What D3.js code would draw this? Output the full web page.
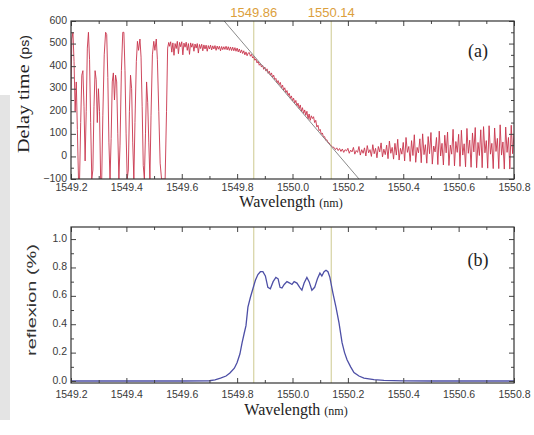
<!DOCTYPE html>
<html>
<head>
<meta charset="utf-8">
<script src="https://cdn.jsdelivr.net/npm/d3@7"></script>
<style>
  body { margin: 0; background: white; }
  .tick text { font-family: "Liberation Sans", Arial, sans-serif; font-size: 10.5px; fill: #3a3a3a; }
  .tick line { stroke: #444; stroke-width: 1; }
</style>
</head>
<body>
<svg id="chart" width="534" height="435"></svg>
<script>
// wavelength ticks shared by both panels
var wlMajor = [1549.2, 1549.4, 1549.6, 1549.8, 1550.0, 1550.2, 1550.4, 1550.6, 1550.8];
var wlMinor = [1549.3, 1549.5, 1549.7, 1549.9, 1550.1, 1550.3, 1550.5, 1550.7];
var delayMajor = [-100, 0, 100, 200, 300, 400, 500, 600];
var delayMinor = [-50, 50, 150, 250, 350, 450, 550];
var reflMajor = [0.0, 0.2, 0.4, 0.6, 0.8, 1.0];
var reflMinor = [0.1, 0.3, 0.5, 0.7, 0.9];

// band edges marked by the vertical lines
var markers = [1549.86, 1550.14];

// linear fit of the delay slope (ps)
var fitLine = [[1549.74, 619], [1550.25, -114]];

// measured group delay (wavelength nm, delay ps)
var delayTrace = [
  [1549.200,300],[1549.203,520],[1549.207,550],[1549.211,420],[1549.215,200],[1549.219,330],[1549.223,120],
  [1549.227,-100],[1549.231,-100],[1549.235,150],[1549.239,360],[1549.243,380],[1549.247,220],[1549.251,-20],
  [1549.255,200],[1549.259,480],[1549.263,550],[1549.267,430],[1549.271,150],[1549.275,-100],[1549.279,-60],
  [1549.283,220],[1549.287,380],[1549.291,340],[1549.295,150],[1549.299,300],[1549.303,200],[1549.307,-100],
  [1549.311,-100],[1549.315,180],[1549.320,450],[1549.325,550],[1549.329,540],[1549.333,350],[1549.337,60],
  [1549.341,-100],[1549.345,80],[1549.349,330],[1549.353,370],[1549.357,250],[1549.361,360],[1549.365,330],
  [1549.369,100],[1549.373,-100],[1549.377,50],[1549.382,380],[1549.387,550],[1549.391,550],[1549.395,380],
  [1549.399,100],[1549.403,-100],[1549.407,-60],[1549.411,200],[1549.415,360],[1549.419,300],[1549.423,60],
  [1549.427,-100],[1549.431,150],[1549.436,420],[1549.440,510],[1549.444,470],[1549.449,520],[1549.453,440],
  [1549.457,220],[1549.461,-40],[1549.465,-100],[1549.469,100],[1549.473,330],[1549.477,240],[1549.481,60],
  [1549.485,-100],[1549.489,180],[1549.494,450],[1549.499,510],[1549.503,470],[1549.508,520],[1549.512,430],
  [1549.517,200],[1549.522,-30],[1549.527,-100],[1549.540,-100],[1549.545,200],[1549.549,480],[1549.553,505],
  [1549.556,488],[1549.560,508],[1549.564,462],[1549.568,503],[1549.572,448],[1549.576,500],[1549.580,478],
  [1549.584,510],[1549.588,455],[1549.592,505],[1549.596,486],[1549.600,508],[1549.604,450],[1549.608,502],
  [1549.612,484],[1549.616,506],[1549.620,470],[1549.624,500],[1549.628,452],[1549.632,503],[1549.636,484],
  [1549.640,500],[1549.644,466],[1549.648,498],[1549.652,480],[1549.656,500],[1549.660,458],[1549.664,496],
  [1549.668,478],[1549.672,497],[1549.676,468],[1549.680,494],[1549.684,476],[1549.688,493],[1549.692,466],
  [1549.696,491],[1549.700,476],[1549.704,493],[1549.708,472],[1549.712,490],[1549.716,476],[1549.720,491],
  [1549.724,470],[1549.728,489],[1549.732,475],[1549.736,488],[1549.740,468],[1549.744,487],[1549.748,473],
  [1549.752,486],[1549.756,474],[1549.760,488],[1549.764,472],[1549.768,486],[1549.772,470],[1549.776,485],
  [1549.780,469],[1549.784,484],[1549.788,468],[1549.792,482],[1549.796,466],[1549.800,480],[1549.804,463],
  [1549.808,476],[1549.812,459],[1549.816,472],[1549.820,456],[1549.824,468],[1549.828,450],[1549.832,463],
  [1549.836,446],[1549.840,458],[1549.844,460],[1549.848,444],[1549.852,452],[1549.856,436],[1549.860,442],
  [1549.864,426],[1549.868,432],[1549.872,414],[1549.876,422],[1549.880,404],[1549.884,412],[1549.888,396],
  [1549.892,404],[1549.896,386],[1549.900,396],[1549.904,378],[1549.908,388],[1549.912,368],[1549.916,378],
  [1549.920,360],[1549.924,370],[1549.928,350],[1549.932,360],[1549.936,340],[1549.940,346],[1549.944,326],
  [1549.948,336],[1549.952,318],[1549.956,328],[1549.960,304],[1549.964,316],[1549.968,294],[1549.972,304],
  [1549.976,282],[1549.980,292],[1549.984,270],[1549.988,280],[1549.992,258],[1549.996,268],[1550.000,246],
  [1550.004,258],[1550.008,236],[1550.012,248],[1550.016,224],[1550.020,236],[1550.024,212],[1550.028,228],
  [1550.032,200],[1550.036,216],[1550.040,190],[1550.044,206],[1550.048,182],[1550.052,200],[1550.056,166],
  [1550.060,188],[1550.064,160],[1550.068,180],[1550.072,168],[1550.076,176],[1550.080,150],[1550.084,160],
  [1550.088,130],[1550.092,138],[1550.096,114],[1550.100,120],[1550.104,98],[1550.108,104],[1550.112,84],
  [1550.116,88],[1550.120,72],[1550.124,74],[1550.128,62],[1550.132,60],[1550.136,52],[1550.140,46],
  [1550.144,42],[1550.150,40],[1550.155,30],[1550.160,38],[1550.165,26],[1550.170,35],[1550.175,22],
  [1550.180,33],[1550.185,18],[1550.190,30],[1550.195,24],[1550.200,36],[1550.205,14],[1550.210,28],
  [1550.215,20],[1550.220,40],[1550.225,10],[1550.230,26],[1550.235,18],[1550.240,44],[1550.245,6],
  [1550.250,30],[1550.255,14],[1550.260,38],[1550.265,2],[1550.270,48],[1550.275,16],[1550.280,30],
  [1550.285,0],[1550.290,52],[1550.295,12],[1550.300,36],[1550.305,-6],[1550.310,44],[1550.315,20],
  [1550.320,60],[1550.325,-2],[1550.330,32],[1550.335,8],[1550.340,50],[1550.345,-10],[1550.350,68],
  [1550.355,14],[1550.360,40],[1550.365,-12],[1550.370,58],[1550.375,6],[1550.380,76],[1550.385,-16],
  [1550.390,36],[1550.395,10],[1550.400,62],[1550.405,-20],[1550.410,84],[1550.415,18],[1550.420,44],
  [1550.425,-22],[1550.430,70],[1550.435,4],[1550.440,96],[1550.445,-26],[1550.450,40],[1550.455,16],
  [1550.460,78],[1550.465,-28],[1550.470,100],[1550.475,8],[1550.480,52],[1550.485,-30],[1550.490,88],
  [1550.495,12],[1550.500,106],[1550.505,-34],[1550.510,46],[1550.515,20],[1550.520,84],[1550.525,-36],
  [1550.530,112],[1550.535,2],[1550.540,58],[1550.545,-38],[1550.550,94],[1550.555,16],[1550.560,108],
  [1550.565,-40],[1550.570,50],[1550.575,10],[1550.580,120],[1550.585,-42],[1550.590,66],[1550.595,18],
  [1550.600,98],[1550.605,-44],[1550.610,116],[1550.615,6],[1550.620,56],[1550.625,-46],[1550.630,124],
  [1550.635,14],[1550.640,72],[1550.645,-48],[1550.650,104],[1550.655,20],[1550.660,128],[1550.665,-50],
  [1550.670,62],[1550.675,4],[1550.680,118],[1550.685,-50],[1550.690,132],[1550.695,16],[1550.700,70],
  [1550.705,-52],[1550.710,136],[1550.715,10],[1550.720,58],[1550.725,-54],[1550.730,126],[1550.735,22],
  [1550.740,80],[1550.745,-54],[1550.750,140],[1550.755,6],[1550.760,64],[1550.765,-56],[1550.770,130],
  [1550.775,18],[1550.780,84],[1550.785,-56],[1550.790,138],[1550.795,12],[1550.800,100]
];

// measured reflection (wavelength nm, reflexion)
var reflTrace = [
  [1549.20,0],[1549.30,0],[1549.40,0],[1549.50,0],[1549.60,0],[1549.70,0.002],[1549.72,0.008],[1549.74,0.02],
  [1549.76,0.035],[1549.774,0.056],[1549.79,0.09],[1549.80,0.13],[1549.81,0.19],[1549.818,0.27],[1549.826,0.34],
  [1549.832,0.39],[1549.839,0.52],[1549.848,0.59],[1549.857,0.65],[1549.866,0.71],[1549.875,0.75],[1549.884,0.77],
  [1549.893,0.77],[1549.902,0.74],[1549.911,0.66],[1549.920,0.65],[1549.930,0.70],[1549.940,0.73],[1549.948,0.72],
  [1549.955,0.66],[1549.962,0.655],[1549.970,0.68],[1549.980,0.70],[1549.990,0.69],[1549.998,0.68],[1550.006,0.70],
  [1550.016,0.69],[1550.026,0.66],[1550.034,0.64],[1550.042,0.69],[1550.052,0.73],[1550.060,0.70],[1550.070,0.64],
  [1550.080,0.66],[1550.090,0.72],[1550.099,0.76],[1550.106,0.74],[1550.114,0.77],[1550.121,0.78],[1550.128,0.77],
  [1550.135,0.73],[1550.146,0.62],[1550.157,0.52],[1550.168,0.41],[1550.179,0.27],[1550.188,0.2],[1550.197,0.15],
  [1550.21,0.1],[1550.222,0.06],[1550.24,0.035],[1550.258,0.02],[1550.294,0.01],[1550.33,0.004],[1550.40,0.001],
  [1550.50,0],[1550.60,0],[1550.70,0],[1550.80,0]
];

var svg = d3.select("#chart");
var left = 71, right = 514;
var topA = 21, botA = 179;
var topB = 227, botB = 383;

// faint grey strip on the left edge of the scan
svg.append("rect").attr("x", 0).attr("y", 95).attr("width", 10).attr("height", 325).attr("fill", "#e4e4e4");

var x = d3.scaleLinear().domain([1549.2, 1550.8]).range([left, right]);
var yA = d3.scaleLinear().domain([-100, 600]).range([botA, topA]);
var yB = d3.scaleLinear().domain([-0.014, 1.085]).range([botB, topB]);

var defs = svg.append("defs");
defs.append("clipPath").attr("id", "clipA").append("rect")
  .attr("x", left).attr("y", topA).attr("width", right - left).attr("height", botA - topA);
defs.append("clipPath").attr("id", "clipB").append("rect")
  .attr("x", left).attr("y", topB).attr("width", right - left).attr("height", botB - topB);

function drawAxes(y, top, bot, yMajor, yMinor, yFmt, xPad) {
  var g = svg.append("g");
  // bottom (labelled) and top mirror
  g.append("g").attr("transform", "translate(0," + bot + ")")
    .call(d3.axisBottom(x).tickValues(wlMajor).tickSize(-5).tickPadding(xPad).tickFormat(d3.format(".1f")));
  g.append("g").attr("transform", "translate(0," + bot + ")")
    .call(d3.axisBottom(x).tickValues(wlMinor).tickSize(-3).tickFormat(""));
  g.append("g").attr("transform", "translate(0," + top + ")")
    .call(d3.axisTop(x).tickValues(wlMajor).tickSize(-5).tickFormat(""));
  g.append("g").attr("transform", "translate(0," + top + ")")
    .call(d3.axisTop(x).tickValues(wlMinor).tickSize(-3).tickFormat(""));
  // left (labelled) and right mirror
  var yl = g.append("g").attr("transform", "translate(" + left + ",0)")
    .call(d3.axisLeft(y).tickValues(yMajor).tickSize(-5).tickPadding(4).tickFormat(yFmt));
  yl.selectAll("text").attr("dy", "0.2em");
  g.append("g").attr("transform", "translate(" + left + ",0)")
    .call(d3.axisLeft(y).tickValues(yMinor).tickSize(-3).tickFormat(""));
  g.append("g").attr("transform", "translate(" + right + ",0)")
    .call(d3.axisRight(y).tickValues(yMajor).tickSize(-5).tickFormat(""));
  g.append("g").attr("transform", "translate(" + right + ",0)")
    .call(d3.axisRight(y).tickValues(yMinor).tickSize(-3).tickFormat(""));
  g.selectAll(".domain").remove();
  svg.append("rect").attr("x", left).attr("y", top).attr("width", right - left).attr("height", bot - top)
    .attr("fill", "none").attr("stroke", "#333").attr("stroke-width", 1.2);
}

// marker lines through both panels
markers.forEach(function(m) {
  svg.append("line").attr("x1", x(m)).attr("x2", x(m)).attr("y1", topA).attr("y2", botA)
    .attr("stroke", "#d6d2a2").attr("stroke-width", 1.2);
  svg.append("line").attr("x1", x(m)).attr("x2", x(m)).attr("y1", topB).attr("y2", botB)
    .attr("stroke", "#d6d2a2").attr("stroke-width", 1.2);
  svg.append("text").attr("x", x(m)).attr("y", 17).attr("text-anchor", "middle")
    .attr("font-family", "Liberation Sans, Arial, sans-serif").attr("font-size", 13)
    .attr("fill", "#dca03c").text(d3.format(".2f")(m));
});

// panel (a): delay
var lineA = d3.line().x(function(d) { return x(d[0]); }).y(function(d) { return yA(d[1]); });
svg.append("path").datum(delayTrace).attr("clip-path", "url(#clipA)")
  .attr("d", lineA).attr("fill", "none").attr("stroke", "#c8344c").attr("stroke-width", 0.9)
  .attr("stroke-linejoin", "round");
svg.append("path").datum(fitLine).attr("clip-path", "url(#clipA)")
  .attr("d", lineA).attr("fill", "none").attr("stroke", "#8a8a8a").attr("stroke-width", 1);
drawAxes(yA, topA, botA, delayMajor, delayMinor, d3.format("d"), 5);

// panel (b): reflexion
var lineB = d3.line().x(function(d) { return x(d[0]); }).y(function(d) { return yB(d[1]); });
svg.append("path").datum(reflTrace).attr("clip-path", "url(#clipB)")
  .attr("d", lineB).attr("fill", "none").attr("stroke", "#4d4fa6").attr("stroke-width", 1.3);
drawAxes(yB, topB, botB, reflMajor, reflMinor, d3.format(".1f"), 8);

// titles
function wlTitle(cx, y) {
  var t = svg.append("text").attr("x", cx).attr("y", y).attr("text-anchor", "middle").attr("fill", "#222");
  t.append("tspan").attr("font-family", "Liberation Serif, Times New Roman, serif").attr("font-size", 16).text("Wavelength ");
  t.append("tspan").attr("font-family", "Liberation Serif, Times New Roman, serif").attr("font-size", 12).text("(nm)");
}
wlTitle(291, 207);
wlTitle(296, 415);

var ya = svg.append("text").attr("transform", "translate(29,94) rotate(-90)").attr("text-anchor", "middle")
  .attr("fill", "#222").attr("textLength", 118).attr("lengthAdjust", "spacingAndGlyphs");
ya.append("tspan").attr("font-family", "Liberation Serif, Times New Roman, serif").attr("font-size", 17).text("Delay time ");
ya.append("tspan").attr("font-family", "Liberation Sans, Arial, sans-serif").attr("font-size", 12).text("(ps)");

svg.append("text").attr("transform", "translate(36,300) rotate(-90)").attr("text-anchor", "middle")
  .attr("font-family", "Liberation Sans, Arial, sans-serif").attr("font-size", 13).attr("fill", "#333")
  .attr("textLength", 112).attr("lengthAdjust", "spacingAndGlyphs").text("reflexion (%)");

svg.append("text").attr("x", 478).attr("y", 57).attr("text-anchor", "middle")
  .attr("font-family", "Liberation Serif, Times New Roman, serif").attr("font-size", 18).attr("fill", "#222").text("(a)");
svg.append("text").attr("x", 478).attr("y", 266).attr("text-anchor", "middle")
  .attr("font-family", "Liberation Serif, Times New Roman, serif").attr("font-size", 18).attr("fill", "#222").text("(b)");
</script>
</body>
</html>
